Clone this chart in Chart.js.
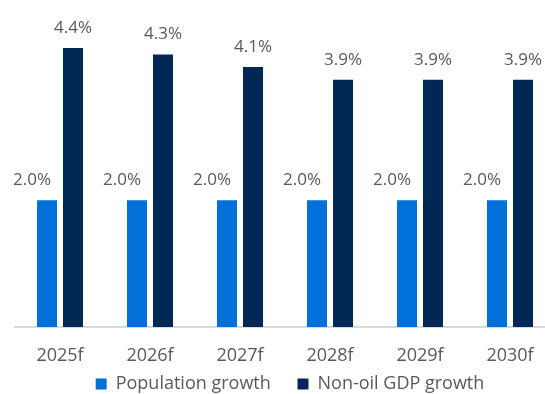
<!DOCTYPE html>
<html>
<head>
<meta charset="utf-8">
<script src="https://cdn.jsdelivr.net/npm/chart.js@4"></script>
<style>
  html, body { margin: 0; padding: 0; background: #fff; overflow: hidden; }
  /* the plot runs a little past the right edge of the page */
  #wrap { width: 565px; height: 403px; }
</style>
</head>
<body>
<div id="wrap"><canvas id="growthChart"></canvas></div>
<script>
"use strict";

const years = ["2025f", "2026f", "2027f", "2028f", "2029f", "2030f"];
const populationGrowth = [2.0, 2.0, 2.0, 2.0, 2.0, 2.0];
const nonOilGdpGrowth = [4.4, 4.3, 4.1, 3.9, 3.9, 3.9];

const textColor = "#595959";
const fontFamily = "'Open Sans', 'Noto Sans', sans-serif";

// Value above each bar; the short population labels sit to the left so they
// don't run into the taller GDP bar next to them
const valueLabels = {
    id: "valueLabels",
    afterDatasetsDraw(chart) {
        const ctx = chart.ctx;
        ctx.save();
        ctx.fillStyle = textColor;
        ctx.font = "17px " + fontFamily;
        ctx.textAlign = "center";
        ctx.textBaseline = "alphabetic";
        chart.data.datasets.forEach((ds, i) => {
            const shift = i === 0 ? -15 : 0;
            chart.getDatasetMeta(i).data.forEach((bar, j) => {
                ctx.fillText(ds.data[j].toFixed(1) + "%", bar.x + shift, bar.y - 15);
            });
        });
        ctx.restore();
    }
};

// Legend sits a touch right of the plot centre
const legendNudge = {
    id: "legendNudge",
    afterLayout(chart) {
        chart.legend.left += 5;
        chart.legend.right += 5;
    }
};

new Chart(document.getElementById("growthChart"), {
    type: "bar",
    data: {
        labels: years,
        datasets: [
            { label: "Population growth", data: populationGrowth, backgroundColor: "#0170D9" },
            { label: "Non-oil GDP growth", data: nonOilGdpGrowth, backgroundColor: "#002855" }
        ]
    },
    options: {
        responsive: true,
        maintainAspectRatio: false,
        animation: false,
        categoryPercentage: 0.578,
        barPercentage: 0.77,
        layout: { padding: { top: 10, left: 15, right: 10, bottom: 0 } },
        plugins: {
            tooltip: { enabled: false },
            legend: {
                position: "bottom",
                labels: {
                    color: textColor,
                    font: { family: fontFamily, size: 18 },
                    boxWidth: 11,
                    boxHeight: 11,
                    padding: 8,
                    // wider gap between the two legend entries
                    generateLabels(chart) {
                        const items = Chart.defaults.plugins.legend.labels.generateLabels(chart);
                        items[0].text += "    ";
                        return items;
                    }
                }
            }
        },
        scales: {
            x: {
                grid: { display: false },
                border: { color: "#d9d9d9", width: 2 },
                ticks: { color: textColor, font: { family: fontFamily, size: 18 }, padding: 10 },
                // keep the legend close under the year labels
                afterFit(scale) { scale.height = 40; }
            },
            y: {
                display: false,
                min: 0,
                max: 5
            }
        }
    },
    plugins: [valueLabels, legendNudge]
});
</script>
</body>
</html>
